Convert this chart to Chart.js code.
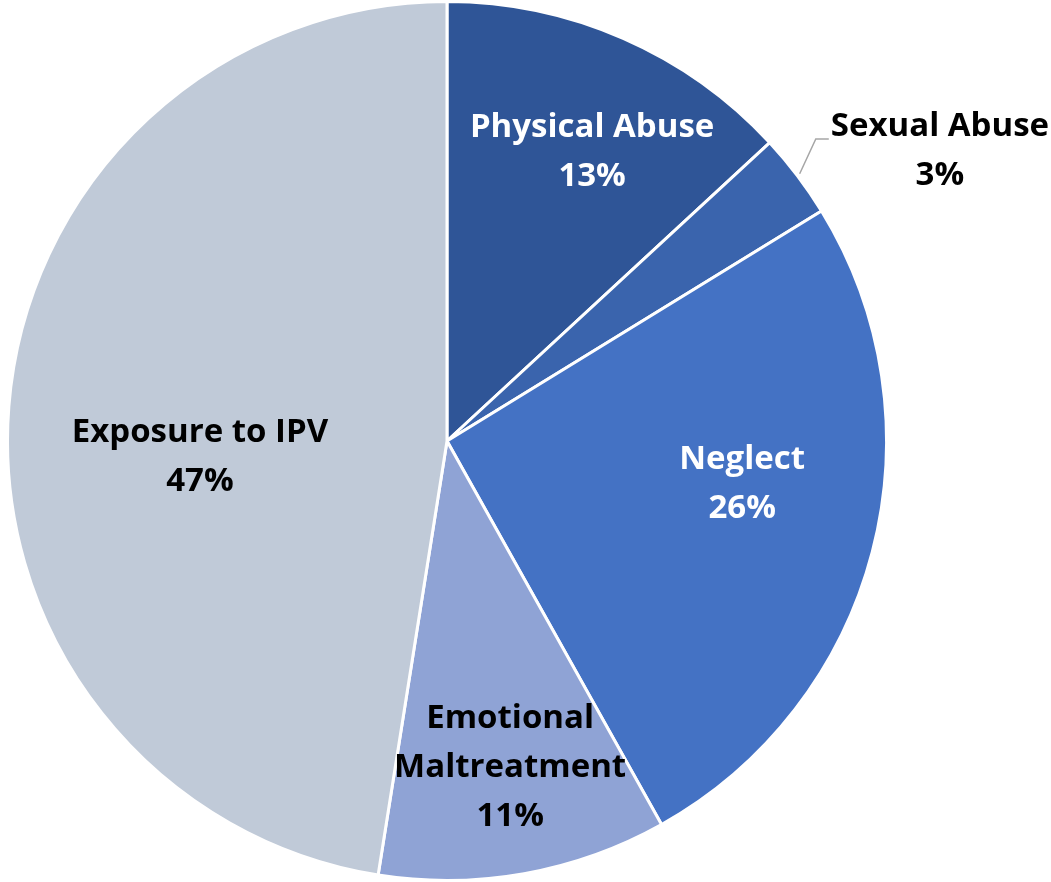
<!DOCTYPE html>
<html>
<head>
<meta charset="utf-8">
<script src="https://cdn.jsdelivr.net/npm/chart.js@4"></script>
<style>
  html, body { margin: 0; padding: 0; background: #fff; }
  #wrap { width: 1051px; height: 882px; position: relative; }
</style>
</head>
<body>
<div id="wrap"><canvas id="chart"></canvas></div>
<script>
// categories, clockwise from 12 o'clock
const categories = ['Physical Abuse', 'Sexual Abuse', 'Neglect', 'Emotional Maltreatment', 'Exposure to IPV'];
const shares = [13.1, 3.1, 25.6, 10.6, 47.4];
const sliceColors = ['#2F5597', '#3A64AD', '#4472C4', '#8FA3D5', '#C0CAD8'];
const labelColors = ['#ffffff', '#000000', '#ffffff', '#000000', '#000000'];
// how each label is split over lines
const labelLines = [['Physical Abuse'], ['Sexual Abuse'], ['Neglect'], ['Emotional', 'Maltreatment'], ['Exposure to IPV']];

// label placement: angle (deg, clockwise from top) and distance as fraction of radius
const labelPlace = [
  { angle: 26.5, dist: 0.74 },
  { angle: 59.4, dist: 1.303, leader: true },
  { angle: 97.9, dist: 0.678 },
  { angle: 169.0, dist: 0.753 },
  { angle: 266.8, dist: 0.563 }
];

const FONT = 'bold 33px "Open Sans", Lato, sans-serif';
const LINE_H = 49;

const pieLabels = {
  id: 'pieLabels',
  afterDatasetsDraw(chart) {
    const ctx = chart.ctx;
    const meta = chart.getDatasetMeta(0);
    const data = chart.data.datasets[0].data;
    ctx.save();
    ctx.font = FONT;
    ctx.textAlign = 'center';
    ctx.textBaseline = 'middle';
    meta.data.forEach((arc, i) => {
      const p = labelPlace[i];
      const a = p.angle * Math.PI / 180 - Math.PI / 2;
      const r = arc.outerRadius;
      const lx = arc.x + Math.cos(a) * r * p.dist;
      const ly = arc.y + Math.sin(a) * r * p.dist + 2;
      const lines = labelLines[i].concat([Math.round(data[i]) + '%']);
      const top = ly - (lines.length - 1) * LINE_H / 2;

      if (p.leader) {
        const mid = (arc.startAngle + arc.endAngle) / 2;
        const w = ctx.measureText(lines[0]).width;
        const sx = arc.x + Math.cos(mid) * (r + 3);
        const sy = arc.y + Math.sin(mid) * (r + 3);
        const ey = top + 12;
        const ex = lx - w / 2 - 2;
        ctx.strokeStyle = '#A6A6A6';
        ctx.lineWidth = 1.5;
        ctx.beginPath();
        ctx.moveTo(sx, sy);
        ctx.lineTo(ex - 13, ey);
        ctx.lineTo(ex, ey);
        ctx.stroke();
      }

      ctx.fillStyle = labelColors[i];
      lines.forEach((t, k) => ctx.fillText(t, lx, top + k * LINE_H));
    });
    ctx.restore();
  }
};

new Chart(document.getElementById('chart'), {
  type: 'pie',
  data: {
    labels: categories,
    datasets: [{
      data: shares,
      backgroundColor: sliceColors,
      borderColor: '#ffffff',
      borderWidth: 3
    }]
  },
  options: {
    responsive: true,
    maintainAspectRatio: false,
    animation: false,
    layout: { padding: { left: 0, right: 157, top: 0, bottom: 0 } },
    plugins: {
      legend: { display: false },
      tooltip: { enabled: false }
    }
  },
  plugins: [pieLabels]
});
</script>
</body>
</html>
